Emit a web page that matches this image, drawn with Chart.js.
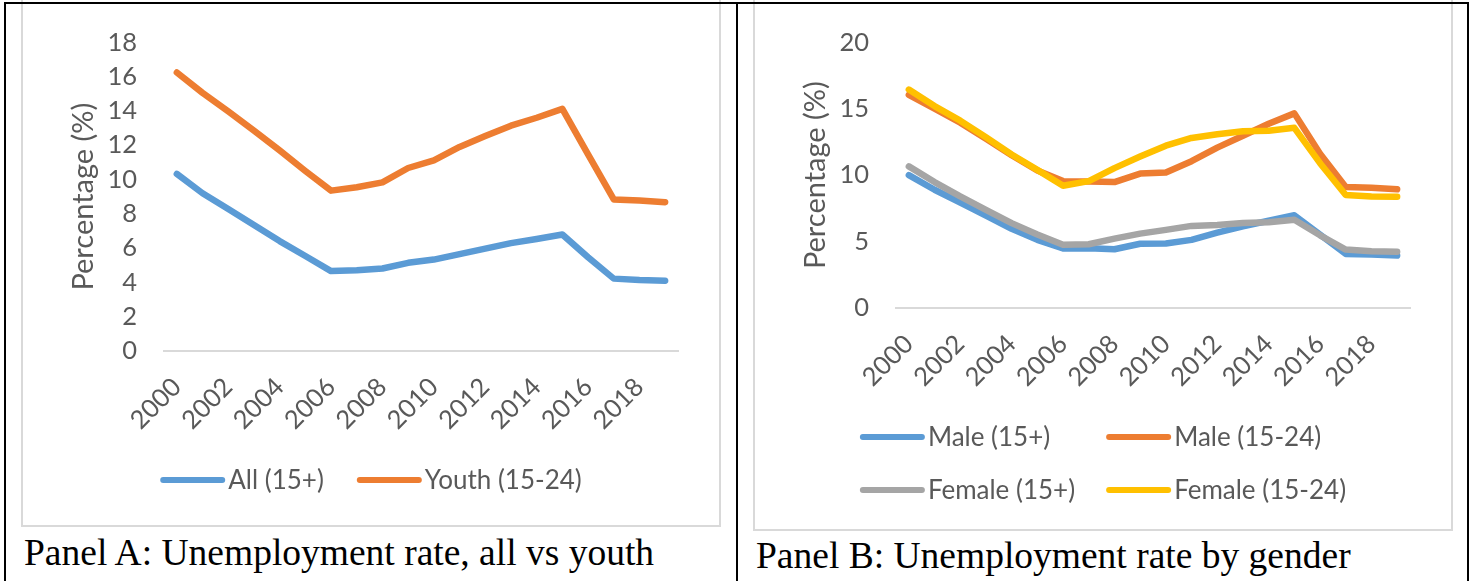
<!DOCTYPE html>
<html>
<head>
<meta charset="utf-8">
<script src="https://cdn.jsdelivr.net/npm/chart.js@4.4.1/dist/chart.umd.min.js"></script>
<style>
  html, body { margin: 0; padding: 0; background: #fff; }
  body { width: 1470px; height: 581px; position: relative; overflow: hidden; }
  .box { position: absolute; border: 2px solid #d9d9d9; box-sizing: border-box; }
  .box canvas { position: absolute; left: 0; top: 0; }
  .rule { position: absolute; background: #000; }
  .caption {
    position: absolute; white-space: nowrap; color: #000;
    font-family: 'Liberation Serif', 'Times New Roman', serif;
    font-size: 37.5px; line-height: 37px;
  }
</style>
</head>
<body>
<div class="box" style="left:21px;top:-2px;width:700px;height:529px">
  <canvas id="panelA" width="696" height="525" style="width:696px;height:525px"></canvas>
</div>
<div class="box" style="left:753px;top:-2px;width:700px;height:533px">
  <canvas id="panelB" width="696" height="529" style="width:696px;height:529px"></canvas>
</div>
<div class="caption" style="left:24px;top:534px">Panel A: Unemployment rate, all vs youth</div>
<div class="caption" style="left:756px;top:537px">Panel B: Unemployment rate by gender</div>
<div class="rule" style="left:4px;top:2px;width:1465px;height:2px"></div>
<div class="rule" style="left:4px;top:2px;width:2px;height:579px"></div>
<div class="rule" style="left:736px;top:2px;width:2px;height:579px"></div>
<div class="rule" style="left:1467px;top:2px;width:2px;height:579px"></div>

<script>
// Unemployment rate (%), 2000-2019
const years = ['2000','2001','2002','2003','2004','2005','2006','2007','2008','2009',
               '2010','2011','2012','2013','2014','2015','2016','2017','2018','2019'];
const yearLabels = ['2000','2002','2004','2006','2008','2010','2012','2014','2016','2018'];

// Panel A: all vs youth
const allRate   = [10.33, 9.20, 8.28, 7.34, 6.41, 5.54, 4.66, 4.71, 4.81, 5.14,
                   5.33, 5.65, 5.97, 6.29, 6.53, 6.79, 5.47, 4.22, 4.14, 4.10];
const youthRate = [16.24, 15.05, 13.97, 12.85, 11.70, 10.50, 9.35, 9.55, 9.83, 10.67,
                   11.12, 11.90, 12.53, 13.14, 13.60, 14.12, 11.46, 8.84, 8.77, 8.68];
const yTicksA = [0, 2, 4, 6, 8, 10, 12, 14, 16, 18];

// Panel B: by gender
const male15      = [10.00, 8.90, 7.94, 6.95, 5.96, 5.13, 4.48, 4.50, 4.42, 4.84,
                     4.85, 5.13, 5.67, 6.15, 6.57, 6.98, 5.53, 4.07, 4.02, 3.95];
const male1524    = [16.05, 15.00, 13.95, 12.75, 11.50, 10.35, 9.55, 9.53, 9.48, 10.12,
                     10.20, 11.05, 12.07, 12.97, 13.87, 14.65, 11.62, 9.11, 9.05, 8.94];
const female15    = [10.66, 9.48, 8.40, 7.38, 6.39, 5.53, 4.76, 4.80, 5.22, 5.60,
                     5.88, 6.18, 6.25, 6.39, 6.45, 6.64, 5.47, 4.40, 4.28, 4.24];
const female1524  = [16.44, 15.20, 14.10, 12.85, 11.55, 10.40, 9.20, 9.55, 10.53, 11.40,
                     12.22, 12.80, 13.08, 13.30, 13.35, 13.56, 10.90, 8.50, 8.40, 8.37];
const yTicksB = [0, 5, 10, 15, 20];

const COLORS = { blue: '#5B9BD5', orange: '#ED7D31', gray: '#A5A5A5', yellow: '#FFC000' };
const TEXT = '#595959';
const FAMILY = "Lato, 'Open Sans', sans-serif";

// Legend drawn as short line samples next to the series names
const lineLegend = {
  id: 'lineLegend',
  afterDraw(chart, args, o) {
    const ctx = chart.ctx;
    const items = chart.data.datasets.map(d => ({ text: d.label, color: d.borderColor }));
    ctx.save();
    ctx.font = `${o.fontSize}px ${FAMILY}`;
    const cols = o.columns;
    const rows = Math.ceil(items.length / cols);
    const colW = [];
    for (let c = 0; c < cols; c++) {
      let w = 0;
      for (let r = 0; r < rows; r++) {
        const it = items[r * cols + c];
        if (it) w = Math.max(w, o.sample + o.gap + ctx.measureText(it.text).width);
      }
      colW.push(w);
    }
    const total = colW.reduce((a, b) => a + b, 0) + o.spacing * (cols - 1);
    const x0 = (chart.width - total) / 2;
    items.forEach((it, i) => {
      const r = Math.floor(i / cols), c = i % cols;
      let x = x0;
      for (let k = 0; k < c; k++) x += colW[k] + o.spacing;
      const y = o.top + r * o.rowGap;
      ctx.strokeStyle = it.color;
      ctx.lineWidth = o.lineWidth;
      ctx.lineCap = 'round';
      ctx.beginPath();
      ctx.moveTo(x + o.lineWidth / 2, y);
      ctx.lineTo(x + o.sample - o.lineWidth / 2, y);
      ctx.stroke();
      ctx.fillStyle = TEXT;
      ctx.textBaseline = 'middle';
      ctx.textAlign = 'left';
      ctx.fillText(it.text, x + o.sample + o.gap, y + 1);
    });
    ctx.restore();
  }
};

function series(label, data, color, order) {
  return {
    label, data, order,
    borderColor: color, backgroundColor: color,
    borderWidth: 6.5, pointRadius: 0, pointHoverRadius: 0,
    tension: 0, fill: false,
    borderJoinStyle: 'round', borderCapStyle: 'round'
  };
}

function makeOptions(yTicks, xAxisHeight, legendOpts) {
  return {
    responsive: false,
    animation: false,
    devicePixelRatio: 1,
    layout: { padding: { top: 38, right: 41, bottom: 0, left: 0 } },
    plugins: {
      legend: { display: false },
      tooltip: { enabled: false },
      lineLegend: legendOpts
    },
    scales: {
      x: {
        type: 'category',
        offset: true,
        grid: { display: false, drawTicks: false },
        border: { display: true, color: '#d9d9d9', width: 2 },
        ticks: {
          autoSkip: false, minRotation: 45, maxRotation: 45, padding: 21,
          color: TEXT, font: { family: FAMILY, size: 25.5 },
          callback(value) {
            const l = this.getLabelForValue(value);
            return yearLabels.includes(l) ? l : '';
          }
        },
        afterFit(s) { s.height = xAxisHeight; }
      },
      y: {
        min: yTicks[0], max: yTicks[yTicks.length - 1],
        afterBuildTicks(s) { s.ticks = yTicks.map(v => ({ value: v })); },
        grid: { display: false, drawTicks: false },
        border: { display: false },
        ticks: { padding: 27, color: TEXT, font: { family: FAMILY, size: 25.5 } },
        title: {
          display: true, text: 'Percentage (%)', color: TEXT,
          font: { family: FAMILY, size: 29 }, padding: { top: 43, bottom: 0 }
        },
        afterFit(s) { s.width = 141; }
      }
    }
  };
}

new Chart(document.getElementById('panelA'), {
  type: 'line',
  data: {
    labels: years,
    datasets: [
      series('All (15+)', allRate, COLORS.blue, 1),
      series('Youth (15-24)', youthRate, COLORS.orange, 0)
    ]
  },
  options: makeOptions(yTicksA, 174,
    { columns: 2, top: 480, rowGap: 53, sample: 65, gap: 3, spacing: 33, lineWidth: 6, fontSize: 26 }),
  plugins: [lineLegend]
});

new Chart(document.getElementById('panelB'), {
  type: 'line',
  data: {
    labels: years,
    datasets: [
      series('Male (15+)', male15, COLORS.blue, 3),
      series('Male (15-24)', male1524, COLORS.orange, 2),
      series('Female (15+)', female15, COLORS.gray, 1),
      series('Female (15-24)', female1524, COLORS.yellow, 0)
    ]
  },
  options: makeOptions(yTicksB, 221,
    { columns: 2, top: 437, rowGap: 53, sample: 65, gap: 3, spacing: 31, lineWidth: 6, fontSize: 26 }),
  plugins: [lineLegend]
});
</script>
</body>
</html>
